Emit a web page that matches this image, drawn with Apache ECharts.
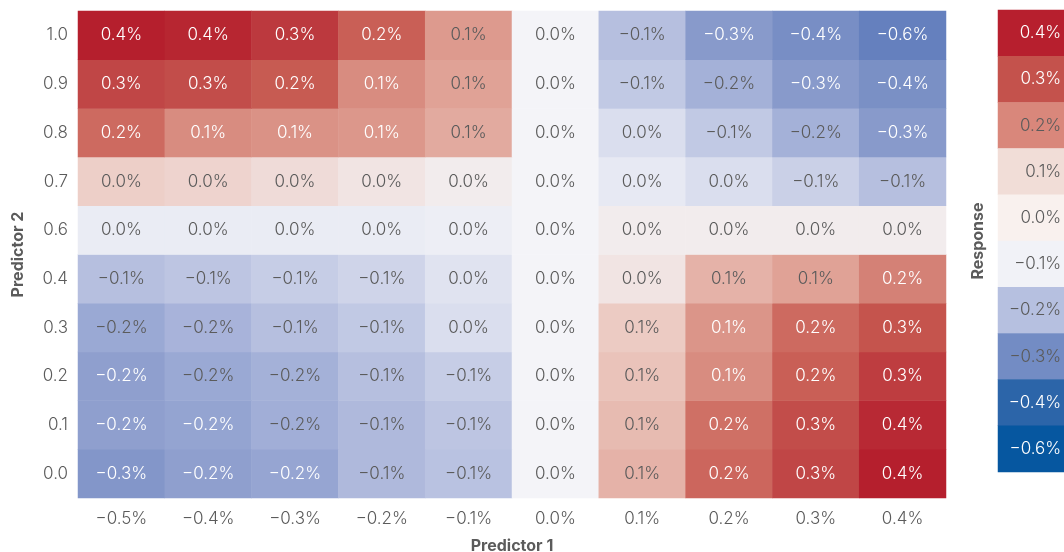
<!DOCTYPE html>
<html>
<head>
<meta charset="utf-8">
<script src="https://cdn.jsdelivr.net/npm/echarts@6/dist/echarts.min.js"></script>
<style>
  html, body { margin: 0; padding: 0; background: #fff; }
  #chart { width: 1064px; height: 552px; }
</style>
</head>
<body>
<div id="chart"></div>
<script>
// Predictor 1 (columns) and Predictor 2 (rows, bottom to top)
const xLabels = ['-0.5%', '-0.4%', '-0.3%', '-0.2%', '-0.1%', '0.0%', '0.1%', '0.2%', '0.3%', '0.4%'];
const yLabels = ['0.0', '0.1', '0.2', '0.3', '0.4', '0.6', '0.7', '0.8', '0.9', '1.0'];

// Response in percent, one array per Predictor 2 row
const row00 = [-0.30, -0.24, -0.215, -0.14, -0.11, 0.00, 0.08, 0.21, 0.30, 0.41];
const row01 = [-0.24, -0.22, -0.18, -0.14, -0.10, 0.00, 0.07, 0.19, 0.28, 0.37];
const row02 = [-0.24, -0.20, -0.17, -0.12, -0.08, 0.00, 0.06, 0.14, 0.23, 0.32];
const row03 = [-0.20, -0.16, -0.12, -0.09, -0.04, 0.00, 0.05, 0.125, 0.20, 0.26];
const row04 = [-0.12, -0.10, -0.08, -0.06, -0.03, 0.00, 0.02, 0.08, 0.10, 0.16];
const row06 = [-0.015, -0.015, -0.015, -0.015, -0.01, 0.00, 0.01, 0.01, 0.01, 0.01];
const row07 = [0.045, 0.04, 0.03, 0.02, 0.01, 0.00, -0.02, -0.04, -0.07, -0.12];
const row08 = [0.20, 0.14, 0.13, 0.12, 0.09, 0.00, -0.04, -0.09, -0.17, -0.27];
const row09 = [0.30, 0.28, 0.24, 0.14, 0.10, 0.00, -0.09, -0.17, -0.27, -0.38];
const row10 = [0.40, 0.38, 0.33, 0.23, 0.115, 0.00, -0.12, -0.27, -0.40, -0.60];
const rows = [row00, row01, row02, row03, row04, row06, row07, row08, row09, row10];

// Legend boxes, top to bottom
const legendLabels = ['0.4%', '0.3%', '0.2%', '0.1%', '0.0%', '-0.1%', '-0.2%', '-0.3%', '-0.4%', '-0.6%'];
const legendValues = [0.4, 0.3, 0.2, 0.1, 0.0, -0.1, -0.2, -0.3, -0.4, -0.6];
const legendColors = ['#b71f2e', '#c4524c', '#d9877b', '#f1ddd7', '#f9f1ee', '#f1f2f7', '#b6c0e0', '#738cc4', '#2c65a9', '#0657a0'];

// colour ramp from -0.6 to 0.4 in steps of 0.05
const ramp = ['#6580be', '#6983bf', '#6e87c1', '#7389c3', '#788ec5', '#7d92c6', '#8396c9',
              '#8c9dcd', '#9aa9d4', '#abb6db', '#bdc5e2', '#d3d8eb', '#f4f4f8', '#eccbc3',
              '#e0a296', '#d6877b', '#cd6a60', '#c6574f', '#c04646', '#ba3038', '#b51f2d'];

const FONT = 'Inter';
const GRAY = '#5b5b5b';
const FS = 17;

function minus(s) { return s.replace('-', '\u2212'); }
function fmt(v) {
    let r = Math.round(v * 10) / 10;
    if (Math.abs(r) < 0.05) r = 0;
    return minus(r.toFixed(1)) + '%';
}

const cells = [];
rows.forEach(function(row, yi) {
    row.forEach(function(v, xi) { cells.push([xi, yi, v]); });
});

const legendData = legendValues.map(function(v, i) {
    return [0, legendValues.length - 1 - i, v];
});
const legendCats = legendLabels.slice().reverse();

const txt = { fontSize: FS, fontFamily: FONT, fontWeight: 300 };

const chart = echarts.init(document.getElementById('chart'));
chart.setOption({
    animation: false,
    textStyle: { fontFamily: FONT },
    grid: [
        { left: 78, right: 118, top: 11, bottom: 54, outerBoundsMode: 'none', containLabel: false },
        { left: 998, width: 66, top: 10, height: 462, outerBoundsMode: 'none', containLabel: false }
    ],
    xAxis: [{
        type: 'category', gridIndex: 0, data: xLabels,
        axisLine: { show: false }, axisTick: { show: false }, splitLine: { show: false },
        axisLabel: Object.assign({ color: GRAY, margin: 12, formatter: minus }, txt),
        name: 'Predictor 1', nameLocation: 'middle', nameGap: 40,
        nameTextStyle: { color: GRAY, fontSize: 16, fontWeight: 'bold' }
    }, {
        type: 'category', gridIndex: 1, data: ['r'], show: false
    }],
    yAxis: [{
        type: 'category', gridIndex: 0, data: yLabels,
        axisLine: { show: false }, axisTick: { show: false }, splitLine: { show: false },
        axisLabel: Object.assign({ color: GRAY, margin: 10 }, txt),
        name: 'Predictor 2', nameLocation: 'middle', nameGap: 52,
        nameTextStyle: { color: GRAY, fontSize: 16, fontWeight: 'bold' }
    }, {
        type: 'category', gridIndex: 1, data: legendCats,
        axisLine: { show: false }, axisTick: { show: false }, axisLabel: { show: false },
        name: 'Response', nameLocation: 'middle', nameGap: 12,
        nameTextStyle: { color: GRAY, fontSize: 16, fontWeight: 'bold' }
    }],
    visualMap: [{
        type: 'continuous', show: false, seriesIndex: 0, dimension: 2,
        min: -0.6, max: 0.4,
        inRange: { color: ramp }
    }, {
        type: 'piecewise', show: false, seriesIndex: 1, dimension: 2,
        pieces: legendValues.map(function(v, i) { return { value: v, color: legendColors[i] }; })
    }],
    series: [{
        type: 'heatmap', xAxisIndex: 0, yAxisIndex: 0, data: cells,
        label: {
            show: true,
            formatter: function(p) {
                const v = p.value[2];
                const light = v >= 0.12 || v <= -0.21;
                return '{' + (light ? 'w' : 'g') + '|' + fmt(v) + '}';
            },
            rich: {
                w: Object.assign({ color: '#ffffff' }, txt),
                g: Object.assign({ color: GRAY }, txt)
            }
        },
        emphasis: { disabled: true }
    }, {
        type: 'heatmap', xAxisIndex: 1, yAxisIndex: 1, data: legendData,
        label: {
            show: true, position: 'insideRight', distance: 3,
            formatter: function(p) {
                const v = p.value[2];
                const light = v >= 0.3 || v <= -0.4;
                return '{' + (light ? 'w' : 'g') + '|' + minus(legendCats[p.value[1]]) + '}';
            },
            rich: {
                w: Object.assign({ color: '#ffffff' }, txt),
                g: Object.assign({ color: GRAY }, txt)
            }
        },
        emphasis: { disabled: true }
    }]
});
</script>
</body>
</html>
